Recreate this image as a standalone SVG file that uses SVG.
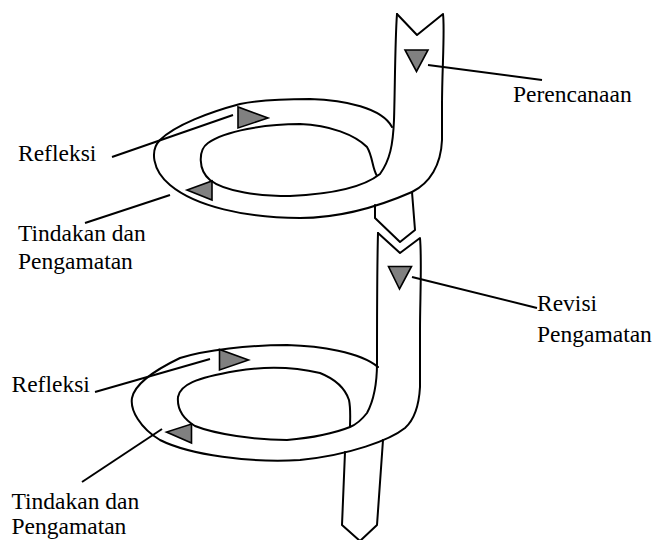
<svg xmlns="http://www.w3.org/2000/svg" width="655" height="540" viewBox="0 0 655 540">
  <style>
    .band { fill: none; stroke: #000; stroke-width: 2; stroke-linejoin: round; stroke-linecap: round; }
    .mark { fill: #808080; stroke: #000; stroke-width: 1.6; stroke-linejoin: miter; }
    .lead { stroke: #000; stroke-width: 2; fill: none; }
    .lbl { font-family: "Liberation Serif", "Times New Roman", "DejaVu Serif", serif; font-size: 23.5px; fill: #000; }
  </style>
  <rect width="655" height="540" fill="#fff"/>

  <!-- first cycle: band with notched top, loop and tail -->
  <g id="cycle1">
    <path class="band" d="M397,14 L417,35 L443,14 C445,30 442,70 442,105 L442,140 C441,165 430,183 412,192 C380,206 340,218 300,218 C245,218 195,206 170,185 C152,170 150,150 160,140 C175,125 210,112 240,104 C265,99 290,99 310,99 C345,100 382,108 392,127"/>
    <path class="band" d="M397,14 C395,40 395,90 394,120 C393,145 390,160 380,174 C365,186 335,194 290,196 C260,196 225,192 210,180 C198,170 198,150 208,143 C225,131 265,124 300,124 C330,125 355,135 367,147 C373,157 372,168 377,176"/>
    <path class="band" d="M412,192 L415,230 L400,242 L375,218 L375,205"/>
    <polygon class="mark" points="405,50 428,50 416.5,71.5"/>
    <polygon class="mark" points="238,107 238,128 268,118"/>
    <polygon class="mark" points="212,181 212,200 187,190"/>
  </g>

  <!-- second cycle -->
  <g id="cycle2">
    <path class="band" d="M378,233 L400,253 L420,238 C422,260 420,300 420,330 L420,387 C419,405 414,420 405,428 C390,440 350,455 300,460 C250,463 190,455 160,440 C140,428 130,410 132,398 C135,383 155,370 180,358 C205,350 250,345 287,345 C320,346 360,352 378,367"/>
    <path class="band" d="M378,233 C377,270 377,320 377,363 C377,385 374,400 367,413 C360,422 355,425 350,427 C335,433 310,438 287,440 C255,440 215,434 195,426 C182,418 177,408 178,397 C180,385 195,378 236,371 C260,367 290,366 320,373 C335,379 345,388 349,400 C351,410 350,420 350,427"/>
    <path class="band" d="M383,440 L377,525 L360,541 L342,525 L345,452"/>
    <polygon class="mark" points="388.5,266.5 411.5,266.5 399.5,289"/>
    <polygon class="mark" points="219.5,349.5 219.5,370 248.5,360"/>
    <polygon class="mark" points="191.5,424 191.5,443 166.5,432"/>
  </g>

  <!-- leader lines -->
  <g id="leaders">
    <line class="lead" x1="428" y1="65" x2="542" y2="80"/>
    <line class="lead" x1="112" y1="157" x2="233" y2="115"/>
    <line class="lead" x1="85" y1="223" x2="170" y2="195"/>
    <line class="lead" x1="412" y1="277" x2="537" y2="308"/>
    <line class="lead" x1="95" y1="392" x2="210" y2="359"/>
    <line class="lead" x1="82" y1="482" x2="162" y2="429"/>
  </g>

  <!-- labels -->
  <g id="label-perencanaan"><text class="lbl" font-family="Liberation Serif, serif" x="513" y="101.5">Perencanaan</text></g>
  <g id="label-refleksi-1"><text class="lbl" font-family="Liberation Serif, serif" x="18" y="161">Refleksi</text></g>
  <g id="label-tindakan-1"><text class="lbl" font-family="Liberation Serif, serif" x="18" y="241">Tindakan dan</text><text class="lbl" font-family="Liberation Serif, serif" x="18" y="268.5">Pengamatan</text></g>
  <g id="label-revisi"><text class="lbl" font-family="Liberation Serif, serif" x="537" y="311">Revisi</text><text class="lbl" font-family="Liberation Serif, serif" x="537" y="341.5">Pengamatan</text></g>
  <g id="label-refleksi-2"><text class="lbl" font-family="Liberation Serif, serif" x="11.5" y="392">Refleksi</text></g>
  <g id="label-tindakan-2"><text class="lbl" font-family="Liberation Serif, serif" x="11.5" y="509">Tindakan dan</text><text class="lbl" font-family="Liberation Serif, serif" x="11.5" y="534">Pengamatan</text></g>
</svg>
